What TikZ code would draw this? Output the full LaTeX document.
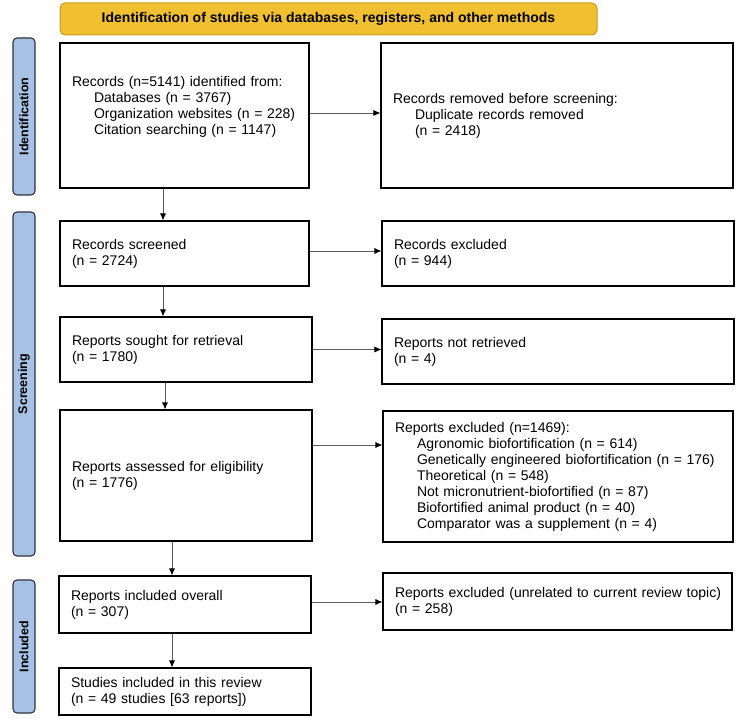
\documentclass[tikz,border=0pt]{standalone}
\usepackage{fontspec}
\setmainfont{Liberation Sans}
\usepackage{tikz}
\usetikzlibrary{arrows.meta}
\definecolor{bandyellow}{HTML}{F0C030}
\definecolor{bandedge}{HTML}{C89B1E}
\definecolor{sideblue}{HTML}{A8C2E6}
\definecolor{sideedge}{HTML}{2E3138}
\definecolor{linkgray}{HTML}{5A5A5A}
\newcommand{\ind}{\hspace*{22pt}}

\begin{document}
\begin{tikzpicture}[x=1pt,y=-1pt,
  every node/.style={font=\fontsize{14}{16}\selectfont},
  box/.style={draw=black,line width=1.1pt,rectangle,align=left,inner xsep=12pt,inner ysep=0pt,
    minimum width=#1},
  side/.style={draw=sideedge,fill=sideblue,line width=1.1pt,rounded corners=4pt,
    minimum height=22pt,inner ysep=0pt,rotate=90,font=\fontsize{12.5}{14}\selectfont\bfseries},
  arr/.style={draw=linkgray,line width=0.8pt,-{Latex[length=7pt,width=6pt,color=black]}}]
\useasboundingbox (0,0) rectangle (740,719);
\node[draw=bandedge,fill=bandyellow,line width=1pt,rounded corners=5pt,minimum width=537pt,minimum height=32pt,
  font=\fontsize{14}{16}\selectfont\bfseries] (title) at (328.5,19) {Identification of studies via databases, registers, and other methods};
\foreach \name/\y/\h in {Identification/116.5/157, Screening/384/344, Included/646.5/133}
{   \node[side,minimum width=\h pt] (\name) at (24,\y) {\name};
}
\node[box=249pt,minimum height=145pt,text width=225pt,text depth=68pt] (ident) at (184.5,115.5)
  {Records (n=5141) identified from:\\ \ind Databases (n = 3767)\\ \ind Organization websites (n = 228)\\ \ind Citation searching (n = 1147)};
\node[box=352pt,minimum height=145pt,text width=328pt] (dup) at (557,115.5)
  {Records removed before screening:\\ \ind Duplicate records removed\\ \ind (n = 2418)};
\node[box=249pt,minimum height=65pt,text width=225pt] (screened) at (184.5,253.5)
  {Records screened\\(n = 2724)};
\node[box=352pt,minimum height=65pt,text width=328pt] (recexcl) at (558,253.5)
  {Records excluded\\(n = 944)};
\node[box=252pt,minimum height=65pt,text width=228pt] (sought) at (186,349.5)
  {Reports sought for retrieval\\(n = 1780)};
\node[box=352pt,minimum height=65pt,text width=328pt] (notret) at (558,351.5)
  {Reports not retrieved\\(n = 4)};
\node[box=252pt,minimum height=131pt,text width=228pt] (assessed) at (186,475.5)
  {Reports assessed for eligibility\\(n = 1776)};
\node[box=350pt,minimum height=131pt,text width=326pt] (repexcl) at (558,476.5)
  {Reports excluded (n=1469):\\ \ind Agronomic biofortification (n = 614)\\ \ind Genetically engineered biofortification (n = 176)\\ \ind Theoretical (n = 548)\\ \ind Not micronutrient-biofortified (n = 87)\\ \ind Biofortified animal product (n = 40)\\ \ind Comparator was a supplement (n = 4)};
\node[box=252pt,minimum height=57pt,text width=228pt] (overall) at (185,604.5)
  {Reports included overall\\(n = 307)};
\node[box=349pt,minimum height=57pt,text width=325pt] (unrel) at (557.5,601.5)
  {\mbox{Reports excluded (unrelated to current review topic)}\\(n = 258)};
\node[box=252pt,minimum height=47pt,text width=228pt] (studies) at (185,691.5)
  {Studies included in this review\\(n = 49 studies [63 reports])};
\draw[arr] ([xshift=-21.5pt]ident.south) -- ([xshift=-21.5pt]screened.north);
\draw[arr] ([xshift=-21.5pt]screened.south) -- ([xshift=-23pt]sought.north);
\draw[arr] ([xshift=-21pt]sought.south) -- ([xshift=-21pt]assessed.north);
\draw[arr] ([xshift=-14pt]assessed.south) -- ([xshift=-13pt]overall.north);
\draw[arr] ([xshift=-13pt]overall.south) -- ([xshift=-13pt]studies.north);
\draw[arr] ([yshift=2.5pt]ident.east) -- ([yshift=2.5pt]ident.east -| dup.west);
\draw[arr] ([yshift=2.5pt]screened.east) -- ([yshift=2.5pt]screened.east -| recexcl.west);
\draw[arr] (sought.east) -- (sought.east -| notret.west);
\draw[arr] ([yshift=30.5pt]assessed.east) -- ([yshift=30.5pt]assessed.east -| repexcl.west);
\draw[arr] ([yshift=2.5pt]overall.east) -- ([yshift=2.5pt]overall.east -| unrel.west);
\end{tikzpicture}
\end{document}
